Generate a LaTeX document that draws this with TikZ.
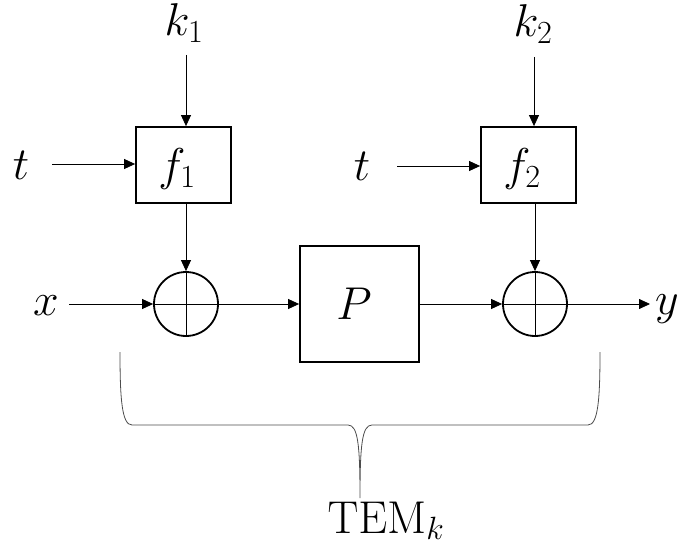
\RequirePackage{fix-cm}
\documentclass[tikz,border=0pt]{standalone}
\usetikzlibrary{arrows.meta}
\begin{document}
\begin{tikzpicture}[x=1pt,y=-1pt,
  every node/.style={font=\fontsize{46}{52}\selectfont, inner sep=0pt},
  blk/.style={draw, line width=1.8pt, rectangle},
  sumnode/.style={draw, line width=1.8pt, circle, minimum size=64pt},
  arr/.style={line width=0.8pt, -{Triangle[length=11pt,width=10pt]}},
  lbl/.style={anchor=base},
  bracestyle/.style={line width=0.8pt, draw=black!70}
]
\useasboundingbox (0,0) rectangle (680,548);

% blocks
\node[blk, minimum width=95pt, minimum height=76pt] (f1) at (183.5,165) {};
\node[lbl] (f1t) at (177,181) {$f_1$};
\node[blk, minimum width=95pt, minimum height=76pt] (f2) at (528.5,165) {};
\node[lbl] (f2t) at (522,181) {$f_2$};
\node[blk, minimum width=119pt, minimum height=116pt] (P) at (359.5,304) {};
\node[lbl] (Pt) at (354,319) {$P$};

% summing junctions
\node[sumnode] (c1) at (186,304) {};
\node[sumnode] (c2) at (535,304) {};
\draw[line width=0.8pt] (c1.north) -- (c1.south) (c1.west) -- (c1.east);
\draw[line width=0.8pt] (c2.north) -- (c2.south) (c2.west) -- (c2.east);

% labels
\node[lbl] (k1) at (184,36) {$k_1$};
\node[lbl] (k2) at (533,37) {$k_2$};
\node[lbl] (t1) at (21,180) {$t$};
\node[lbl] (t2) at (362,181) {$t$};
\node[lbl] (x) at (46,315) {$x$};
\node[lbl] (y) at (667,314) {$y$};
\node[lbl] (tem) at (386,533) {$\mathrm{TEM}_k$};

% connector free ends
\coordinate (k1s) at (186,55);
\coordinate (k2s) at (534,57);
\coordinate (t1s) at (52,164);
\coordinate (t2s) at (397,166);
\coordinate (xs) at (69,304);
\coordinate (ye) at (650,304);

% connectors
\draw[arr] (k1s) -- (k1s |- f1.north);
\draw[arr] (t1s) -- (t1s -| f1.west);
\draw[arr] (f1.south -| c1) -- (c1.north);
\draw[arr] (xs) -- (c1.west);
\draw[arr] (c1.east) -- (P.west |- c1);
\draw[arr] (P.east |- c2) -- (c2.west);
\draw[arr] (c2.east) -- (ye);
\draw[arr] (k2s) -- (k2s |- f2.north);
\draw[arr] (t2s) -- (t2s -| f2.west);
\draw[arr] (f2.south -| c2) -- (c2.north);

% brace
\coordinate (bl) at (120,352);
\coordinate (br) at (600,352);
\coordinate (btip) at (360,498);
\draw[bracestyle] (bl) .. controls (120,400) and (122,425) .. (132,425)
  -- (348,425) .. controls (358,425) and (360,445) .. (btip)
  .. controls (360,445) and (362,425) .. (372,425)
  -- (588,425) .. controls (598,425) and (600,400) .. (br);
\end{tikzpicture}
\end{document}
